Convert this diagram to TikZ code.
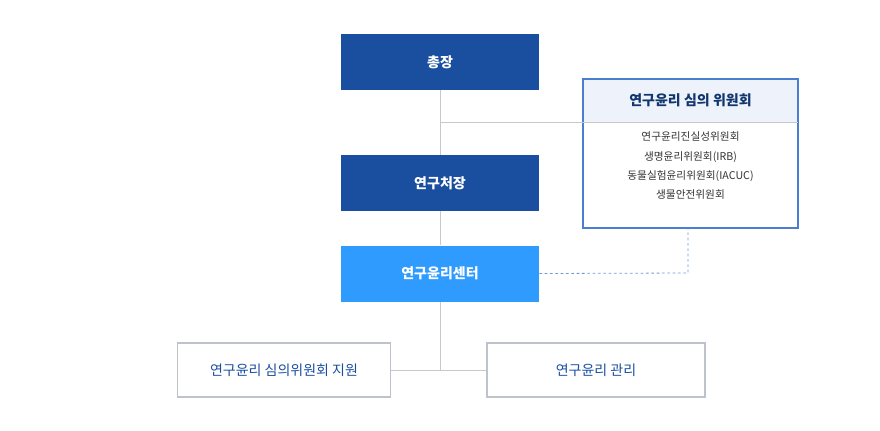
\documentclass[tikz,border=0pt]{standalone}
\usepackage{fontspec}
\setmainfont{Noto Sans CJK KR}
\usetikzlibrary{positioning}
\definecolor{navy}{RGB}{26, 79, 159}
\definecolor{sky}{RGB}{47, 155, 255}
\definecolor{frame}{RGB}{74, 127, 208}
\definecolor{headfill}{RGB}{238, 243, 251}
\definecolor{txtblue}{RGB}{26, 79, 159}
\definecolor{linegray}{RGB}{200, 200, 200}
\definecolor{boxgray}{RGB}{190, 194, 202}
\begin{document}
\begin{tikzpicture}[x=0.75pt, y=-0.75pt,
  chief/.style={fill=navy, text=white, minimum width=148.5pt, minimum height=42pt, font=\bfseries\fontsize{10.5}{12}\selectfont},
  unit/.style={draw=boxgray, fill=white, text=txtblue, minimum width=160pt, minimum height=40.5pt, line width=0.9pt, font=\fontsize{10.5}{12}\selectfont},
  link/.style={draw=linegray, line width=0.6pt}]
\useasboundingbox (0,0) rectangle (880,430);
\node[chief] (president) at (440,62) {총장};
\node[chief] (research) at (440,183) {연구처장};
\node[chief, fill=sky] (center) at (440,273.5) {연구윤리센터};
\node[unit] (support) at (284,370) {연구윤리 심의위원회 지원};
\node[unit, minimum width=163.5pt] (manage) at (596,370) {연구윤리 관리};
% committee box
\node[fill=headfill, minimum width=161pt, minimum height=32pt, text=txtblue!70!black, font=\bfseries\fontsize{10.5}{12}\selectfont] (head) at (690.5,100.5) {연구윤리 심의 위원회};
\node[align=center, font=\fontsize{8}{14.5}\selectfont, text=black!80, below=4pt of head] (body) {연구윤리진실성위원회\\생명윤리위원회(IRB)\\동물실험윤리위원회(IACUC)\\생물안전위원회};
\draw[draw=frame, line width=1.5pt] (583,79) rectangle (798,228);
\draw[draw=linegray] (583,122) -- (798,122);
\coordinate (tee) at (440,122);
\coordinate (fork) at (440,370);
\coordinate (drop) at (688,273);
\draw[link] (president.south) -- (research.north);
\draw[link] (tee) -- (583,122);
\draw[link] (research.south) -- (center.north);
\draw[link] (center.south) -- (fork);
\draw[link] (support.east) -- (manage.west);
\draw[link, draw=frame!80, dash pattern=on 2pt off 2pt] (center.east) -- (drop) -- (688,228);
\end{tikzpicture}
\end{document}
